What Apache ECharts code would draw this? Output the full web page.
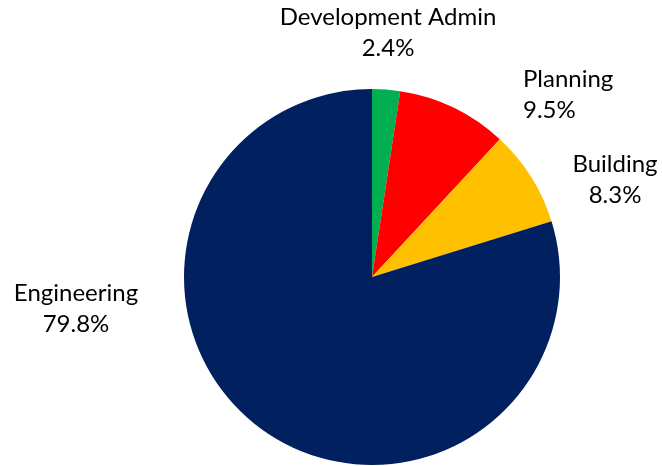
<!DOCTYPE html>
<html>
<head>
<meta charset="utf-8">
<style>
  html, body { margin: 0; padding: 0; background: #fff; }
  #chart { width: 662px; height: 466px; }
</style>
<script src="https://cdn.jsdelivr.net/npm/echarts@6/dist/echarts.min.js"></script>
</head>
<body>
<div id="chart"></div>
<script>
// Share of the department budget by division (percent)
const divisions = ['Development Admin', 'Planning', 'Building', 'Engineering'];
const shares = [2.4, 9.5, 8.3, 79.8];
const sliceColors = ['#00B050', '#FF0000', '#FFC000', '#002060'];

// Where each two-line caption is anchored beside its slice
const labelSpots = [
  { x: 388, y: 33, align: 'center' },
  { x: 523, y: 95, align: 'left' },
  { x: 615, y: 180, align: 'center' },
  { x: 76, y: 309, align: 'center' }
];

const chart = echarts.init(document.getElementById('chart'), null, { renderer: 'canvas' });

chart.setOption({
  animation: false,
  backgroundColor: '#ffffff',
  series: [{
    type: 'pie',
    center: [372, 277],
    radius: [0, 188],
    startAngle: 90,
    clockwise: true,
    avoidLabelOverlap: false,
    data: divisions.map((name, i) => ({
      name: name,
      value: shares[i],
      itemStyle: { color: sliceColors[i] }
    })),
    itemStyle: { borderWidth: 0 },
    label: {
      show: true,
      position: 'outside',
      formatter: p => p.name + '\n' + p.value.toFixed(1) + '%',
      fontFamily: 'Lato',
      fontSize: 24,
      lineHeight: 31,
      color: '#000000',
      align: 'center'
    },
    labelLine: { show: false },
    labelLayout: params => {
      const s = labelSpots[params.dataIndex];
      return { x: s.x, y: s.y, align: s.align, verticalAlign: 'middle' };
    },
    emphasis: { disabled: true }
  }]
});
</script>
</body>
</html>
